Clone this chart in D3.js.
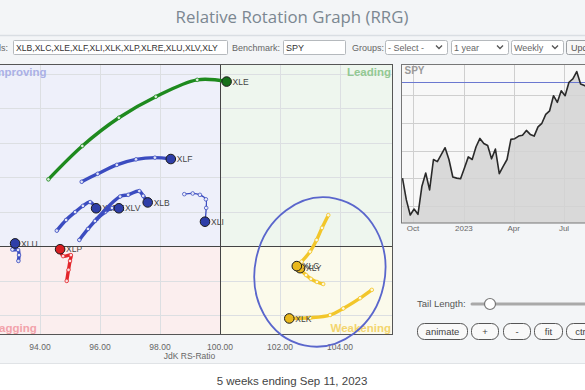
<!DOCTYPE html>
<html><head><meta charset="utf-8">
<script src="https://cdn.jsdelivr.net/npm/d3@7"></script>
<style>
html,body{margin:0;padding:0;background:#fff;overflow:hidden;}
svg{display:block;font-family:"Liberation Sans",Arial,sans-serif;}
</style></head><body>
<svg id="c" width="585" height="390"></svg>
<script>
// ---------------- DATA ----------------
const titleText = "Relative Rotation Graph (RRG)";
const symbolsText = "XLB,XLC,XLE,XLF,XLI,XLK,XLP,XLRE,XLU,XLV,XLY";
const benchmark = "SPY";
const footerText = "5 weeks ending Sep 11, 2023";
const ratioTicks = [94, 96, 98, 100, 102, 104];
const momentumGrid = [98, 99, 100, 101, 102, 103, 104, 105];

// tails (JdK RS-Ratio, JdK RS-Momentum), oldest -> latest
const tailOrder = ["XLE","XLF","XLRE","XLV","XLB","XLI","XLU","XLP","XLK","XLY","XLC"];
const xleRatio = [94.28, 95.41, 96.63, 97.86, 99.24, 100.22];
const xleMom   = [101.94, 102.91, 103.73, 104.34, 104.83, 104.78];
const xlfRatio = [95.39, 95.92, 96.56, 97.20, 97.83, 98.36];
const xlfMom   = [101.87, 102.10, 102.36, 102.52, 102.57, 102.53];
const xlreRatio = [94.56, 94.87, 95.17, 95.43, 95.67, 95.87];
const xlreMom   = [100.45, 100.76, 100.99, 101.17, 101.28, 101.10];
const xlvRatio = [95.31, 95.60, 95.90, 96.17, 96.40, 96.63];
const xlvMom   = [100.18, 100.50, 100.79, 100.99, 101.11, 101.10];
const xlbRatio = [95.83, 96.67, 96.94, 97.31, 97.44, 97.59];
const xlbMom   = [100.73, 101.44, 101.49, 101.60, 101.46, 101.27];
const xliRatio = [98.81, 99.09, 99.33, 99.53, 99.54, 99.50];
const xliMom   = [101.51, 101.53, 101.49, 101.36, 101.11, 100.71];
const xluRatio = [93.28, 93.30, 93.27, 93.08, 93.13, 93.17];
const xluMom   = [99.57, 99.74, 99.89, 99.90, 100.00, 100.08];
const xlpRatio = [94.89, 94.95, 95.00, 95.03, 94.77, 94.67];
const xlpMom   = [98.99, 99.31, 99.57, 99.74, 99.71, 99.91];
const xlkRatio = [105.06, 104.67, 104.11, 103.67, 103.00, 102.31];
const xlkMom   = [98.73, 98.49, 98.19, 98.00, 97.92, 97.90];
const xlyRatio = [103.44, 103.23, 103.03, 102.87, 102.73, 102.67];
const xlyMom   = [98.90, 98.96, 99.05, 99.16, 99.28, 99.36];
const xlcRatio = [103.61, 103.40, 103.22, 103.00, 102.72, 102.56];
const xlcMom   = [100.90, 100.53, 100.18, 99.84, 99.55, 99.42];

// highlight ellipse (annotation) in data units
const highlightCenter = [103.33, 99.25];
const highlightRadii = [2.17, 2.18];

// SPY weekly closes starting week of Sep 12, 2022
const spyStartDate = "2022-09-12";
const spyValues = [380.1, 364.4, 353.5, 357.8, 354.0, 374.0, 383.8, 371.6, 393.5, 392.0,
  397.0, 402.0, 393.5, 380.9, 380.1, 379.6, 387.4, 395.4, 393.5, 402.7,
  408.7, 405.0, 403.6, 394.0, 401.0, 383.3, 388.6, 393.5, 408.0, 408.5,
  410.4, 411.0, 414.5, 411.6, 410.4, 417.0, 419.6, 426.0, 428.6, 439.5,
  434.7, 443.1, 439.5, 449.2, 451.6, 456.9, 448.0, 446.8, 445.0];
const spyMarker = 449;
const spyPriceGrid = [360, 380, 400, 420, 440];
const spyDateTicks = ["2022-10-01", "2023-01-01", "2023-04-01", "2023-07-01"];
const spyDateLabels = ["Oct", "2023", "Apr", "Jul"];
const buttonLabels = ["animate", "+", "-", "fit", "ctr"];

const tailData = {
  XLE: [xleRatio, xleMom], XLF: [xlfRatio, xlfMom], XLRE: [xlreRatio, xlreMom],
  XLV: [xlvRatio, xlvMom], XLB: [xlbRatio, xlbMom], XLI: [xliRatio, xliMom],
  XLU: [xluRatio, xluMom], XLP: [xlpRatio, xlpMom], XLK: [xlkRatio, xlkMom],
  XLY: [xlyRatio, xlyMom], XLC: [xlcRatio, xlcMom]
};

// ---------------- DRAW ----------------
const svg = d3.select("#c");
const W = 585, H = 390;
const defs = svg.append("defs");

svg.append("rect").attr("width", W).attr("height", 363).attr("fill", "#f3f5f7");
svg.append("rect").attr("y", 363).attr("width", W).attr("height", H - 363).attr("fill", "#ffffff");
svg.append("line").attr("x1", 0).attr("x2", W).attr("y1", 363.5).attr("y2", 363.5).attr("stroke", "#e0e3e6");

// title
const title = svg.append("text").attr("x", 292).attr("y", 23).attr("text-anchor", "middle")
  .attr("font-family", '"Open Sans", sans-serif').attr("font-size", 17).attr("fill", "#7b8791")
  .text(titleText);
const tw = title.node().getComputedTextLength();
title.attr("font-size", 17 * 233 / tw);
svg.append("line").attr("x1", 0).attr("x2", W).attr("y1", 35.5).attr("y2", 35.5)
  .attr("stroke", "#d9dee3").attr("stroke-width", 1.5);

// controls row
const ctl = svg.append("g").attr("font-size", 9).attr("fill", "#555");
function label(x, t) { ctl.append("text").attr("x", x).attr("y", 51).attr("fill", "#666").text(t); }
function box(x, w, t, chevron, id) {
  ctl.append("rect").attr("x", x + 0.5).attr("y", 40.5).attr("width", w).attr("height", 14)
    .attr("fill", "#fff").attr("stroke", "#b5b9bd").attr("rx", chevron ? 2 : 1);
  const tx = ctl.append("text").attr("x", x + 3).attr("y", 51).attr("fill", chevron ? "#666" : "#333").text(t);
  if (id) {
    defs.append("clipPath").attr("id", id).append("rect").attr("x", x + 1).attr("y", 41).attr("width", w - 1).attr("height", 13);
    tx.attr("clip-path", `url(#${id})`).attr("font-size", 8.6);
  }
  if (chevron) {
    const cx = x + w - 8;
    ctl.append("path").attr("d", `M${cx - 3},45.5 L${cx},48.5 L${cx + 3},45.5`)
      .attr("fill", "none").attr("stroke", "#555").attr("stroke-width", 1.3);
  }
}
label(-1, "ls:");
box(13, 214, symbolsText, false, "symclip");
label(232, "Benchmark:");
box(283, 62, benchmark, false);
label(352, "Groups:");
box(385, 62, "- Select -", true);
box(451, 57, "1 year", true);
box(511, 52, "Weekly", true);
ctl.append("rect").attr("x", 566.5).attr("y", 40.5).attr("width", 34).attr("height", 14)
  .attr("fill", "#f7f7f7").attr("stroke", "#9a9ea2").attr("rx", 2);
ctl.append("text").attr("x", 571).attr("y", 51).attr("fill", "#555").text("Update");

// ---------- RRG plot ----------
const x = d3.scaleLinear().domain([94, 104]).range([40, 340]);
const y = d3.scaleLinear().domain([98, 105]).range([315, 74]);
const pL = -14, pR = 393, pT = 64, pB = 335;
const x100 = x(100), y100 = y(100);

defs.append("clipPath").attr("id", "plotclip")
  .append("rect").attr("x", pL).attr("y", pT).attr("width", pR - pL).attr("height", pB - pT);

const plot = svg.append("g");
const quads = [
  { x0: pL, x1: x100, y0: pT, y1: y100, fill: "#eef0fa" },
  { x0: x100, x1: pR, y0: pT, y1: y100, fill: "#eef6ee" },
  { x0: x100, x1: pR, y0: y100, y1: pB, fill: "#fbfaeb" },
  { x0: pL, x1: x100, y0: y100, y1: pB, fill: "#fbeeee" }
];
plot.selectAll("rect.q").data(quads).join("rect").attr("class", "q")
  .attr("x", d => d.x0).attr("y", d => d.y0).attr("width", d => d.x1 - d.x0).attr("height", d => d.y1 - d.y0)
  .attr("fill", d => d.fill);

plot.selectAll("line.vg").data(ratioTicks.filter(v => v !== 100)).join("line").attr("class", "vg")
  .attr("x1", d => Math.round(x(d)) + 0.5).attr("x2", d => Math.round(x(d)) + 0.5)
  .attr("y1", pT).attr("y2", pB).attr("stroke", "#dcdfe2").attr("stroke-width", 1);
plot.selectAll("line.hg").data(momentumGrid.filter(v => v !== 100)).join("line").attr("class", "hg")
  .attr("y1", d => Math.round(y(d)) + 0.5).attr("y2", d => Math.round(y(d)) + 0.5)
  .attr("x1", pL).attr("x2", pR).attr("stroke", "#dcdfe2").attr("stroke-width", 1);
plot.append("line").attr("x1", Math.round(x100) + 0.5).attr("x2", Math.round(x100) + 0.5)
  .attr("y1", pT).attr("y2", pB).attr("stroke", "#444");
plot.append("line").attr("y1", Math.round(y100) + 0.5).attr("y2", Math.round(y100) + 0.5)
  .attr("x1", pL).attr("x2", pR).attr("stroke", "#444");

// quadrant labels
const ql = plot.append("g").attr("font-size", 11.5).attr("font-weight", "bold");
ql.append("text").attr("x", pL + 5).attr("y", pT + 12).attr("fill", "#aab0e6").text("Improving");
ql.append("text").attr("x", pR - 2).attr("y", pT + 12).attr("text-anchor", "end").attr("fill", "#93c993").text("Leading");
ql.append("text").attr("x", pR - 2).attr("y", pB - 3).attr("text-anchor", "end").attr("fill", "#f3d56e").text("Weakening");
ql.append("text").attr("x", pL + 6).attr("y", pB - 3).attr("fill", "#f2a2aa").text("Lagging");

plot.append("rect").attr("x", pL + 0.5).attr("y", pT + 0.5).attr("width", pR - pL - 1).attr("height", pB - pT - 1)
  .attr("fill", "none").attr("stroke", "#555");

// x axis
const xa = svg.append("g").attr("font-size", 8.5).attr("fill", "#666");
xa.selectAll("text.t").data(ratioTicks).join("text").attr("class", "t")
  .attr("x", d => x(d)).attr("y", 350).attr("text-anchor", "middle").text(d => d.toFixed(2));
xa.append("text").attr("x", (pL + pR) / 2).attr("y", 358.5).attr("text-anchor", "middle").text("JdK RS-Ratio");

// tails
function quadColor(r, m) {
  if (r >= 100 && m >= 100) return "#1e8a1e";
  if (r >= 100 && m < 100) return "#f2c62a";
  if (r < 100 && m < 100) return "#e3262b";
  return "#3b4cc0";
}
function headFill(r, m) {
  if (r >= 100 && m >= 100) return "#16701a";
  if (r >= 100 && m < 100) return "#e9b81c";
  if (r < 100 && m < 100) return "#d81e22";
  return "#2e3ea8";
}
const tailsG = svg.append("g").attr("clip-path", "url(#plotclip)");
const line = d3.line().x(d => x(d[0])).y(d => y(d[1])).curve(d3.curveCatmullRom.alpha(0.5));
tailOrder.forEach(sym => {
  const [rs, ms] = tailData[sym];
  const pts = rs.map((r, i) => [r, ms[i]]);
  const head = pts[pts.length - 1];
  const col = quadColor(head[0], head[1]);
  const g = tailsG.append("g");
  g.append("path").attr("d", line(pts)).attr("fill", "none").attr("stroke", col)
    .attr("stroke-width", sym === "XLI" ? 1.3 : 3.4).attr("stroke-linecap", "round");
  g.selectAll("circle.p").data(pts.slice(0, -1)).join("circle").attr("class", "p")
    .attr("cx", d => x(d[0])).attr("cy", d => y(d[1])).attr("r", 1.8)
    .attr("fill", "#fff").attr("fill-opacity", 0.85).attr("stroke", col).attr("stroke-width", 0.8);
  g.append("circle").attr("cx", x(head[0])).attr("cy", y(head[1])).attr("r", 4.8)
    .attr("fill", headFill(head[0], head[1])).attr("stroke", "#1a1a1a").attr("stroke-width", 1);
  g.append("text").attr("x", x(head[0]) + 6).attr("y", y(head[1]) + 3.2)
    .attr("font-size", 8.5).attr("fill", "#444").text(sym);
});

// highlight ellipse
const ecx = x(highlightCenter[0]), ecy = y(highlightCenter[1]);
const erx = x(highlightCenter[0] + highlightRadii[0]) - ecx;
const ery = y(highlightCenter[1]) - y(highlightCenter[1] + highlightRadii[1]);
svg.append("ellipse").attr("cx", 0).attr("cy", 0).attr("rx", erx).attr("ry", ery)
  .attr("transform", `translate(${ecx},${ecy}) rotate(12)`)
  .attr("fill", "none").attr("stroke", "#5a66cc").attr("stroke-width", 1.8);

// ---------- SPY panel ----------
const sL = 401.5, sR = 600, sT = 64, sB = 223;
const parse = d3.timeParse("%Y-%m-%d");
const start = parse(spyStartDate);
const spy = spyValues.map((v, i) => ({ d: d3.timeWeek.offset(start, i), v }));
const xt = d3.scaleTime().domain([parse("2022-10-01"), parse("2023-07-01")]).range([413, 564]);
const yp = d3.scaleLinear().domain([360, 440]).range([206, 95]);

defs.append("clipPath").attr("id", "spyclip").append("rect")
  .attr("x", sL).attr("y", sT).attr("width", sR - sL).attr("height", sB - sT);
const sp = svg.append("g");
sp.append("rect").attr("x", sL).attr("y", sT).attr("width", sR - sL).attr("height", sB - sT).attr("fill", "#f8f8f8");
const spg = sp.append("g").attr("clip-path", "url(#spyclip)");
spg.selectAll("line.h").data(spyPriceGrid).join("line").attr("class", "h")
  .attr("x1", sL).attr("x2", sR).attr("y1", d => Math.round(yp(d)) + 0.5).attr("y2", d => Math.round(yp(d)) + 0.5)
  .attr("stroke", "#cfcfcf");
spg.selectAll("line.v").data(spyDateTicks).join("line").attr("class", "v")
  .attr("y1", sT).attr("y2", sB).attr("x1", d => Math.round(xt(parse(d))) + 0.5).attr("x2", d => Math.round(xt(parse(d))) + 0.5)
  .attr("stroke", "#cfcfcf");
spg.append("path").datum(spy)
  .attr("d", d3.area().x(d => xt(d.d)).y0(sB).y1(d => yp(d.v)))
  .attr("fill", "#d4d4d4").attr("fill-opacity", 0.85);
spg.append("line").attr("x1", sL).attr("x2", sR).attr("y1", yp(spyMarker)).attr("y2", yp(spyMarker))
  .attr("stroke", "#6b78d0").attr("stroke-width", 1.2);
spg.append("path").datum(spy)
  .attr("d", d3.line().x(d => xt(d.d)).y(d => yp(d.v)))
  .attr("fill", "none").attr("stroke", "#2a2a2a").attr("stroke-width", 1.6).attr("stroke-linejoin", "round");
sp.append("rect").attr("x", sL).attr("y", sT + 0.5).attr("width", sR - sL).attr("height", sB - sT - 0.5)
  .attr("fill", "none").attr("stroke", "#777");
sp.append("text").attr("x", sL + 3).attr("y", sT + 10).attr("font-size", 10).attr("font-weight", "bold")
  .attr("fill", "#9a9a9a").text(benchmark);
sp.selectAll("text.dl").data(spyDateTicks).join("text").attr("class", "dl")
  .attr("x", d => xt(parse(d))).attr("y", 231).attr("text-anchor", "middle")
  .attr("font-size", 8).attr("fill", "#666").text((d, i) => spyDateLabels[i]);

// tail length slider
const ctr = svg.append("g");
ctr.append("text").attr("x", 417).attr("y", 307).attr("font-size", 9.5).attr("fill", "#555").text("Tail Length:");
ctr.append("line").attr("x1", 472).attr("x2", 600).attr("y1", 304).attr("y2", 304)
  .attr("stroke", "#a9a9a9").attr("stroke-width", 3).attr("stroke-linecap", "round");
ctr.append("circle").attr("cx", 490).attr("cy", 304).attr("r", 5.5).attr("fill", "#fff")
  .attr("stroke", "#777").attr("stroke-width", 1.2);
const btnX = [417, 471, 503, 534, 566];
const btnW = [50, 27, 27, 28, 28];
buttonLabels.forEach((b, i) => {
  ctr.append("rect").attr("x", btnX[i] + 0.5).attr("y", 323.5).attr("width", btnW[i]).attr("height", 16)
    .attr("rx", 7).attr("fill", "#f9f9f9").attr("stroke", "#555").attr("stroke-width", 1);
  ctr.append("text").attr("x", btnX[i] + btnW[i] / 2 + 0.5).attr("y", 335).attr("text-anchor", "middle")
    .attr("font-size", 9.5).attr("fill", "#444").text(b);
});

// footer
svg.append("text").attr("x", 292).attr("y", 385).attr("text-anchor", "middle")
  .attr("font-size", 11.5).attr("fill", "#444").text(footerText);
</script>
</body></html>
